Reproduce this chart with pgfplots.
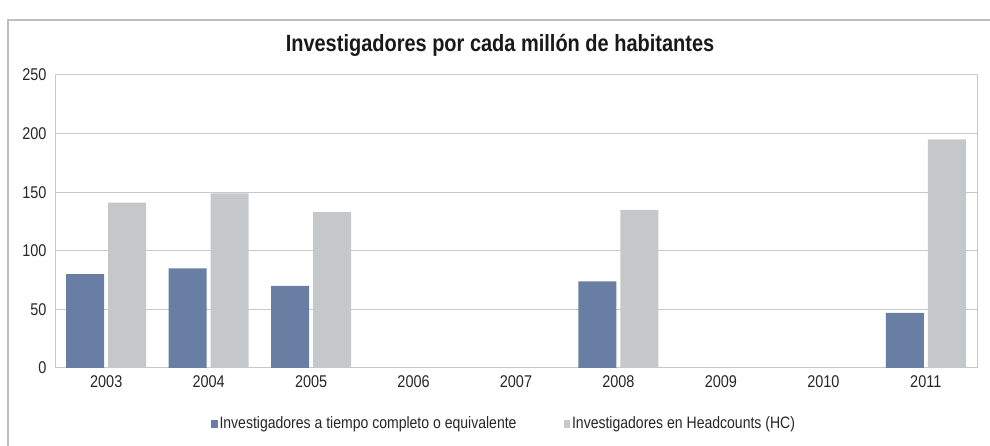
\documentclass[border=0pt]{standalone}
\usepackage{fontspec}
\setmainfont{Liberation Sans}[FakeStretch=0.85]
\usepackage{pgfplots}
\pgfplotsset{compat=1.18}
\definecolor{barblue}{RGB}{104,127,163}
\definecolor{bargray}{RGB}{198,199,201}
\definecolor{gridgray}{RGB}{200,200,200}
\definecolor{framegray}{RGB}{190,190,190}
\begin{document}
\begin{tikzpicture}
\path[use as bounding box] (0pt,0pt) rectangle (990pt,446pt);
\draw[framegray, line width=1.2pt] (8pt,-2pt) -- (8pt,426pt) -- (992pt,426pt);
\node[font=\bfseries\fontsize{23.5}{27}\selectfont, text=black!90] at (500pt,401pt) {Investigadores por cada millón de habitantes};
\begin{axis}[
  at={(55pt,78pt)}, anchor=south west,
  scale only axis, width=922pt, height=293pt,
  ybar=4pt, bar width=38pt,
  xmin=-0.5, xmax=8.5, ymin=0, ymax=250,
  xtick={0,1,2,3,4,5,6,7,8},
  xticklabels={2003,2004,2005,2006,2007,2008,2009,2010,2011},
  ytick={0,50,100,150,200,250},
  ymajorgrids, grid style={gridgray, line width=1pt},
  axis line style={gridgray, line width=1pt},
  major tick length=0pt,
  /pgf/number format/assume math mode=true,
  tick label style={font=\fontsize{17}{20}\selectfont, text=black!85},
  yticklabel style={xshift=-5pt},
  xticklabel style={yshift=-4pt},
  legend columns=2,
  legend style={at={(0.487,-0.19)}, anchor=center, draw=none, fill=none,
    font=\fontsize{16.5}{19}\selectfont, text=black!85,
    /tikz/every even column/.append style={column sep=45pt}},
  legend image code/.code={\fill[#1] (0pt,-4pt) rectangle (6.5pt,4pt);},
]
\addplot[fill=barblue, draw=none] coordinates {(0,80) (1,85) (2,70) (5,74) (8,47)};
\addplot[fill=bargray, draw=none] coordinates {(0,141) (1,149) (2,133) (5,135) (8,195)};
\legend{Investigadores a tiempo completo o equivalente, Investigadores en Headcounts (HC)}
\end{axis}
\end{tikzpicture}
\end{document}
